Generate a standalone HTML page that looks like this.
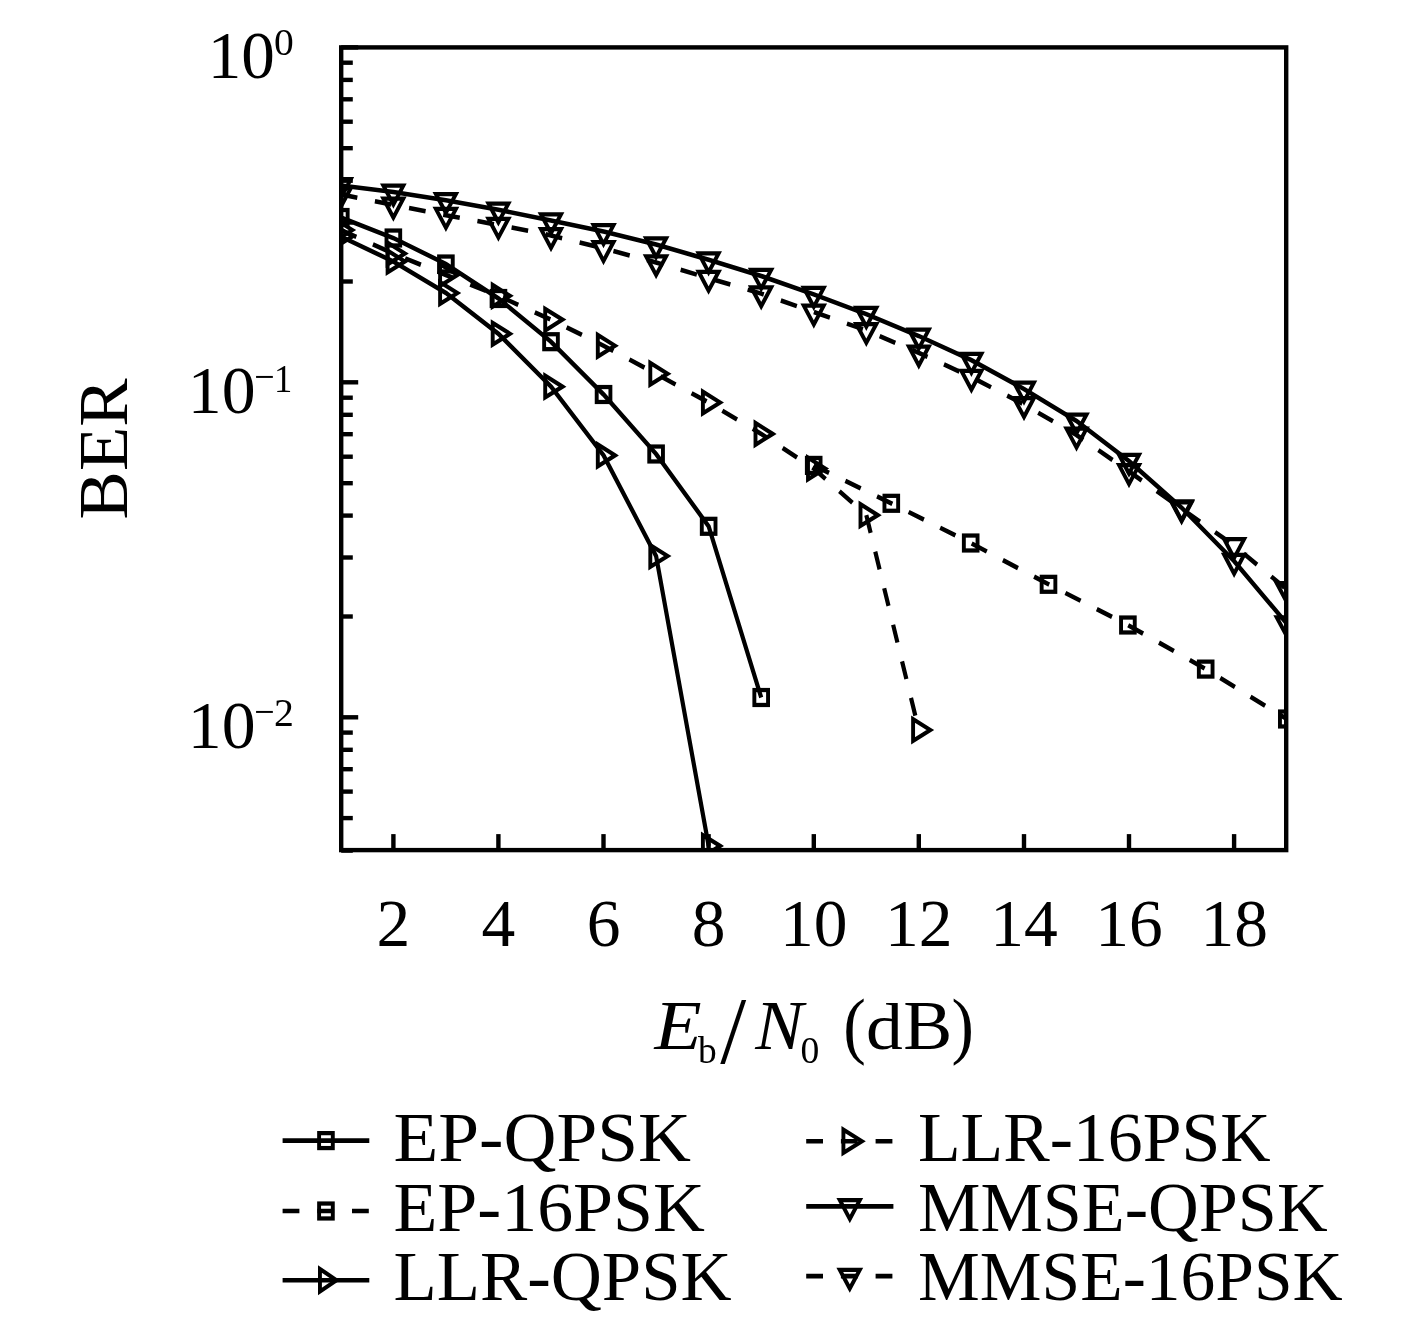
<!DOCTYPE html>
<html><head><meta charset="utf-8"><title>BER vs Eb/N0</title>
<style>
html,body{margin:0;padding:0;background:#fff;}
body{width:1417px;height:1317px;overflow:hidden;}
svg{display:block;filter:grayscale(1);}
text{font-family:"Liberation Serif","DejaVu Serif",serif;fill:#000;}
</style></head><body>
<svg width="1417" height="1317" viewBox="0 0 1417 1317">
<defs><clipPath id="ax"><rect x="341.2" y="47.4" width="945.0" height="802.7"/></clipPath></defs>
<g clip-path="url(#ax)"><g transform="scale(1 1.09)">
<polyline points="340.80,170.18 393.35,176.15 445.90,183.76 498.45,192.48 551.00,202.39 603.55,212.39 656.10,224.40 708.65,238.26 761.20,253.21 813.75,270.00 866.30,288.17 918.85,308.26 971.40,330.46 1023.95,356.79 1076.50,386.15 1129.05,423.03 1181.60,465.78 1234.15,514.86 1286.70,572.02" fill="none" stroke="#000" stroke-width="4.2"/>
<polyline points="340.80,178.26 393.35,188.07 445.90,197.43 498.45,206.42 551.00,215.96 603.55,227.89 656.10,240.83 708.65,255.14 761.20,269.36 813.75,286.24 866.30,303.03 918.85,323.76 971.40,345.96 1023.95,371.01 1076.50,399.08 1129.05,432.57 1181.60,466.70 1234.15,500.46 1286.70,540.73" fill="none" stroke="#000" stroke-width="4.2" stroke-dasharray="16.8 17.9"/>
<polyline points="340.80,199.54 393.35,218.35 445.90,242.20 498.45,273.85 551.00,313.49 603.55,361.93 656.10,416.51 708.65,482.84 761.20,639.91" fill="none" stroke="#000" stroke-width="4.2"/>
<polyline points="813.70,426.97 891.30,461.74 970.70,498.17 1048.50,536.06 1127.90,573.39 1205.70,613.85 1286.80,659.63" fill="none" stroke="#000" stroke-width="4.2" stroke-dasharray="16.8 17.9"/>
<polyline points="340.80,216.97 393.35,239.91 445.90,268.81 498.45,306.24 551.00,354.68 603.55,417.80 656.10,510.09 708.65,776.15" fill="none" stroke="#000" stroke-width="4.2"/>
<polyline points="340.80,211.01 393.35,232.57 445.90,252.29 498.45,271.38 551.00,293.21 603.55,317.16 656.10,342.94 708.65,369.27 761.20,398.07 813.75,429.82 866.30,472.57 918.85,669.72" fill="none" stroke="#000" stroke-width="4.2" stroke-dasharray="16.8 17.9"/>
<g fill="none" stroke="#000" stroke-width="3.9">
<path d="M340.8,181.7L330.8,164.4L350.8,164.4Z"/>
<path d="M393.4,187.6L383.4,170.4L403.3,170.4Z"/>
<path d="M445.9,195.3L435.9,178.0L455.9,178.0Z"/>
<path d="M498.4,204.0L488.5,186.7L508.4,186.7Z"/>
<path d="M551.0,213.9L541.0,196.6L561.0,196.6Z"/>
<path d="M603.5,223.9L593.6,206.6L613.5,206.6Z"/>
<path d="M656.1,235.9L646.1,218.7L666.1,218.7Z"/>
<path d="M708.6,249.8L698.7,232.5L718.6,232.5Z"/>
<path d="M761.2,264.7L751.2,247.5L771.2,247.5Z"/>
<path d="M813.8,281.5L803.8,264.2L823.7,264.2Z"/>
<path d="M866.3,299.7L856.3,282.4L876.3,282.4Z"/>
<path d="M918.8,319.8L908.9,302.5L928.8,302.5Z"/>
<path d="M971.4,342.0L961.4,324.7L981.4,324.7Z"/>
<path d="M1024.0,368.3L1014.0,351.0L1033.9,351.0Z"/>
<path d="M1076.5,397.6L1066.5,380.4L1086.5,380.4Z"/>
<path d="M1129.0,434.5L1119.1,417.3L1139.0,417.3Z"/>
<path d="M1181.6,477.3L1171.6,460.0L1191.6,460.0Z"/>
<path d="M1234.1,526.4L1224.2,509.1L1244.1,509.1Z"/>
<path d="M1286.7,583.5L1276.7,566.3L1296.7,566.3Z"/>
<path d="M340.8,189.8L330.8,172.5L350.8,172.5Z"/>
<path d="M393.4,199.6L383.4,182.3L403.3,182.3Z"/>
<path d="M445.9,208.9L435.9,191.7L455.9,191.7Z"/>
<path d="M498.4,217.9L488.5,200.7L508.4,200.7Z"/>
<path d="M551.0,227.5L541.0,210.2L561.0,210.2Z"/>
<path d="M603.5,239.4L593.6,222.1L613.5,222.1Z"/>
<path d="M656.1,252.3L646.1,235.1L666.1,235.1Z"/>
<path d="M708.6,266.6L698.7,249.4L718.6,249.4Z"/>
<path d="M761.2,280.9L751.2,263.6L771.2,263.6Z"/>
<path d="M813.8,297.7L803.8,280.5L823.7,280.5Z"/>
<path d="M866.3,314.5L856.3,297.3L876.3,297.3Z"/>
<path d="M918.8,335.3L908.9,318.0L928.8,318.0Z"/>
<path d="M971.4,357.5L961.4,340.2L981.4,340.2Z"/>
<path d="M1024.0,382.5L1014.0,365.3L1033.9,365.3Z"/>
<path d="M1076.5,410.6L1066.5,393.3L1086.5,393.3Z"/>
<path d="M1129.0,444.1L1119.1,426.8L1139.0,426.8Z"/>
<path d="M1181.6,478.2L1171.6,460.9L1191.6,460.9Z"/>
<path d="M1234.1,512.0L1224.2,494.7L1244.1,494.7Z"/>
<path d="M1286.7,552.2L1276.7,535.0L1296.7,535.0Z"/>
<rect x="333.95" y="192.69" width="13.7" height="13.7"/>
<rect x="386.50" y="211.50" width="13.7" height="13.7"/>
<rect x="439.05" y="235.35" width="13.7" height="13.7"/>
<rect x="491.60" y="267.00" width="13.7" height="13.7"/>
<rect x="544.15" y="306.64" width="13.7" height="13.7"/>
<rect x="596.70" y="355.08" width="13.7" height="13.7"/>
<rect x="649.25" y="409.66" width="13.7" height="13.7"/>
<rect x="701.80" y="475.99" width="13.7" height="13.7"/>
<rect x="754.35" y="633.06" width="13.7" height="13.7"/>
<rect x="806.85" y="420.12" width="13.7" height="13.7"/>
<rect x="884.45" y="454.89" width="13.7" height="13.7"/>
<rect x="963.85" y="491.32" width="13.7" height="13.7"/>
<rect x="1041.65" y="529.21" width="13.7" height="13.7"/>
<rect x="1121.05" y="566.54" width="13.7" height="13.7"/>
<rect x="1198.85" y="607.00" width="13.7" height="13.7"/>
<rect x="1279.95" y="652.78" width="13.7" height="13.7"/>
<path d="M352.3,217.0L335.1,207.0L335.1,226.9Z"/>
<path d="M404.9,239.9L387.6,229.9L387.6,249.9Z"/>
<path d="M457.4,268.8L440.1,258.8L440.1,278.8Z"/>
<path d="M509.9,306.2L492.7,296.3L492.7,316.2Z"/>
<path d="M562.5,354.7L545.2,344.7L545.2,364.6Z"/>
<path d="M615.0,417.8L597.8,407.8L597.8,427.8Z"/>
<path d="M667.6,510.1L650.3,500.1L650.3,520.1Z"/>
<path d="M720.1,776.1L702.9,766.2L702.9,786.1Z"/>
<path d="M352.3,211.0L335.1,201.1L335.1,221.0Z"/>
<path d="M404.9,232.6L387.6,222.6L387.6,242.5Z"/>
<path d="M457.4,252.3L440.1,242.3L440.1,262.3Z"/>
<path d="M509.9,271.4L492.7,261.4L492.7,281.3Z"/>
<path d="M562.5,293.2L545.2,283.3L545.2,303.2Z"/>
<path d="M615.0,317.2L597.8,307.2L597.8,327.1Z"/>
<path d="M667.6,342.9L650.3,333.0L650.3,352.9Z"/>
<path d="M720.1,369.3L702.9,359.3L702.9,379.2Z"/>
<path d="M772.7,398.1L755.5,388.1L755.5,408.0Z"/>
<path d="M825.2,429.8L808.0,419.9L808.0,439.8Z"/>
<path d="M877.8,472.6L860.5,462.6L860.5,482.5Z"/>
<path d="M930.3,669.7L913.1,659.8L913.1,679.7Z"/>
</g></g></g>
<g stroke="#000" stroke-width="4.4" fill="none">
<rect x="341.2" y="47.4" width="945.0" height="802.7"/>
<line x1="341.2" y1="47.4" x2="358.2" y2="47.4"/>
<line x1="341.2" y1="382.3" x2="358.2" y2="382.3"/>
<line x1="341.2" y1="717.3" x2="358.2" y2="717.3"/>
<line x1="341.2" y1="281.5" x2="352.8" y2="281.5"/>
<line x1="341.2" y1="222.5" x2="352.8" y2="222.5"/>
<line x1="341.2" y1="180.7" x2="352.8" y2="180.7"/>
<line x1="341.2" y1="148.2" x2="352.8" y2="148.2"/>
<line x1="341.2" y1="121.7" x2="352.8" y2="121.7"/>
<line x1="341.2" y1="99.3" x2="352.8" y2="99.3"/>
<line x1="341.2" y1="79.9" x2="352.8" y2="79.9"/>
<line x1="341.2" y1="62.7" x2="352.8" y2="62.7"/>
<line x1="341.2" y1="616.5" x2="352.8" y2="616.5"/>
<line x1="341.2" y1="557.5" x2="352.8" y2="557.5"/>
<line x1="341.2" y1="515.6" x2="352.8" y2="515.6"/>
<line x1="341.2" y1="483.2" x2="352.8" y2="483.2"/>
<line x1="341.2" y1="456.7" x2="352.8" y2="456.7"/>
<line x1="341.2" y1="434.2" x2="352.8" y2="434.2"/>
<line x1="341.2" y1="414.8" x2="352.8" y2="414.8"/>
<line x1="341.2" y1="397.7" x2="352.8" y2="397.7"/>
<line x1="341.2" y1="850.6" x2="352.8" y2="850.6"/>
<line x1="341.2" y1="818.1" x2="352.8" y2="818.1"/>
<line x1="341.2" y1="791.6" x2="352.8" y2="791.6"/>
<line x1="341.2" y1="769.2" x2="352.8" y2="769.2"/>
<line x1="341.2" y1="749.8" x2="352.8" y2="749.8"/>
<line x1="341.2" y1="732.6" x2="352.8" y2="732.6"/>
<line x1="393.4" y1="850.1" x2="393.4" y2="834.1"/>
<line x1="498.4" y1="850.1" x2="498.4" y2="834.1"/>
<line x1="603.5" y1="850.1" x2="603.5" y2="834.1"/>
<line x1="708.6" y1="850.1" x2="708.6" y2="834.1"/>
<line x1="813.8" y1="850.1" x2="813.8" y2="834.1"/>
<line x1="918.8" y1="850.1" x2="918.8" y2="834.1"/>
<line x1="1024.0" y1="850.1" x2="1024.0" y2="834.1"/>
<line x1="1129.0" y1="850.1" x2="1129.0" y2="834.1"/>
<line x1="1234.1" y1="850.1" x2="1234.1" y2="834.1"/>
</g>
<text x="393.35" y="945.7" font-size="67.5" text-anchor="middle">2</text>
<text x="498.45" y="945.7" font-size="67.5" text-anchor="middle">4</text>
<text x="603.55" y="945.7" font-size="67.5" text-anchor="middle">6</text>
<text x="708.65" y="945.7" font-size="67.5" text-anchor="middle">8</text>
<text x="813.75" y="945.7" font-size="67.5" text-anchor="middle">10</text>
<text x="918.85" y="945.7" font-size="67.5" text-anchor="middle">12</text>
<text x="1023.95" y="945.7" font-size="67.5" text-anchor="middle">14</text>
<text x="1129.05" y="945.7" font-size="67.5" text-anchor="middle">16</text>
<text x="1234.15" y="945.7" font-size="67.5" text-anchor="middle">18</text>
<text x="207.72" y="78.30" font-size="68.18" textLength="67.20" lengthAdjust="spacingAndGlyphs">10</text>
<text x="273.92" y="55.20" font-size="38.05" textLength="19.76" lengthAdjust="spacingAndGlyphs">0</text>
<text x="187.87" y="413.20" font-size="68.03" textLength="67.77" lengthAdjust="spacingAndGlyphs">10</text>
<text x="254.29" y="389.80" font-size="40.00" textLength="20.38" lengthAdjust="spacingAndGlyphs">−</text>
<text x="274.10" y="391.50" font-size="39.70" textLength="18.30" lengthAdjust="spacingAndGlyphs">1</text>
<text x="187.87" y="748.20" font-size="68.03" textLength="67.77" lengthAdjust="spacingAndGlyphs">10</text>
<text x="274.01" y="726.00" font-size="39.55" textLength="19.87" lengthAdjust="spacingAndGlyphs">2</text>
<text x="254.29" y="724.80" font-size="40.00" textLength="20.38" lengthAdjust="spacingAndGlyphs">−</text>
<g transform="translate(127.0 517.3) rotate(-90)"><text x="-2.18" y="0.00" font-size="69.92" textLength="141.15" lengthAdjust="spacingAndGlyphs">BER</text></g>
<text x="654.57" y="1049.30" font-size="69.77" textLength="47.16" lengthAdjust="spacingAndGlyphs" font-style="italic">E</text>
<text x="698.00" y="1062.50" font-size="38.56" textLength="18.70" lengthAdjust="spacingAndGlyphs">b</text>
<text x="720.30" y="1063.10" font-size="95.76" textLength="25.93" lengthAdjust="spacingAndGlyphs">/</text>
<text x="755.34" y="1049.30" font-size="69.77" textLength="48.08" lengthAdjust="spacingAndGlyphs" font-style="italic">N</text>
<text x="800.39" y="1062.50" font-size="38.50" textLength="18.82" lengthAdjust="spacingAndGlyphs">0</text>
<text x="843.15" y="1049.70" font-size="73.53" textLength="22.59" lengthAdjust="spacingAndGlyphs">(</text>
<text x="865.92" y="1049.30" font-size="65.76" textLength="36.80" lengthAdjust="spacingAndGlyphs">d</text>
<text x="903.29" y="1049.30" font-size="69.77" textLength="49.05" lengthAdjust="spacingAndGlyphs">B</text>
<text x="951.52" y="1049.70" font-size="73.53" textLength="22.37" lengthAdjust="spacingAndGlyphs">)</text>
<g transform="scale(1 1.09)"><polyline points="282.60,1046.42 369.30,1046.42" fill="none" stroke="#000" stroke-width="4.2"/><g fill="none" stroke="#000" stroke-width="3.9"><rect x="319.10" y="1039.57" width="13.7" height="13.7"/></g></g>
<text x="393.40" y="1161.30" font-size="70.53" textLength="297.58" lengthAdjust="spacingAndGlyphs">EP-QPSK</text>
<g transform="scale(1 1.09)"><polyline points="282.60,1111.01 369.30,1111.01" fill="none" stroke="#000" stroke-width="4.2" stroke-dasharray="16.8 17.9"/><g fill="none" stroke="#000" stroke-width="3.9"><rect x="319.10" y="1104.16" width="13.7" height="13.7"/></g></g>
<text x="393.44" y="1231.30" font-size="70.69" textLength="311.54" lengthAdjust="spacingAndGlyphs">EP-16PSK</text>
<g transform="scale(1 1.09)"><polyline points="282.60,1174.50 369.30,1174.50" fill="none" stroke="#000" stroke-width="4.2"/><g fill="none" stroke="#000" stroke-width="3.9"><path d="M336.45,1174.50L319.95,1164.20L319.95,1184.80Z"/></g></g>
<text x="393.48" y="1300.20" font-size="70.38" textLength="338.22" lengthAdjust="spacingAndGlyphs">LLR-QPSK</text>
<g transform="scale(1 1.09)"><polyline points="806.20,1046.97 893.40,1046.97" fill="none" stroke="#000" stroke-width="4.2" stroke-dasharray="16.8 17.9"/><g fill="none" stroke="#000" stroke-width="3.9"><path d="M861.9,1047.0L843.4,1036.3L843.4,1057.6Z"/></g></g>
<text x="918.01" y="1161.30" font-size="70.53" textLength="352.60" lengthAdjust="spacingAndGlyphs">LLR-16PSK</text>
<g transform="scale(1 1.09)"><polyline points="806.20,1106.79 893.40,1106.79" fill="none" stroke="#000" stroke-width="4.2"/><g fill="none" stroke="#000" stroke-width="3.9"><path d="M849.8,1118.3L839.8,1101.0L859.8,1101.0Z"/></g></g>
<text x="917.99" y="1231.30" font-size="70.69" textLength="409.62" lengthAdjust="spacingAndGlyphs">MMSE-QPSK</text>
<g transform="scale(1 1.09)"><polyline points="806.20,1170.73 893.40,1170.73" fill="none" stroke="#000" stroke-width="4.2" stroke-dasharray="16.8 17.9"/><g fill="none" stroke="#000" stroke-width="3.9"><path d="M849.8,1182.2L839.8,1165.0L859.8,1165.0Z"/></g></g>
<text x="918.02" y="1300.20" font-size="70.38" textLength="424.71" lengthAdjust="spacingAndGlyphs">MMSE-16PSK</text>
</svg></body></html>
